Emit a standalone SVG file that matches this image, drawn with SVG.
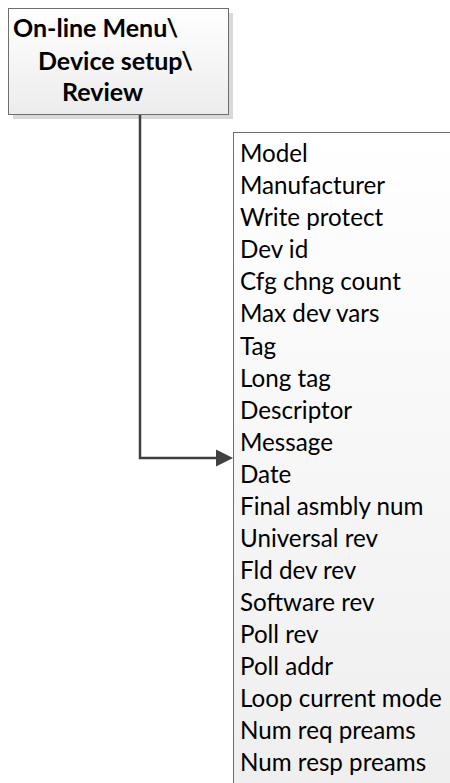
<svg xmlns="http://www.w3.org/2000/svg" width="450" height="783" viewBox="0 0 450 783">
<defs>
<linearGradient id="g1" x1="0" y1="0" x2="0" y2="1">
<stop offset="0" stop-color="#ffffff"/>
<stop offset="1" stop-color="#ececec"/>
</linearGradient>
<linearGradient id="g2" x1="0" y1="0" x2="0" y2="1">
<stop offset="0" stop-color="#ffffff"/>
<stop offset="1" stop-color="#eeeeee"/>
</linearGradient>
<marker id="arr" markerWidth="7" markerHeight="7" refX="4" refY="3.5" orient="auto" markerUnits="strokeWidth">
<path d="M0,0 L7,3.5 L0,7 Z" fill="#404040"/>
</marker>
</defs>
<style>
.box{stroke:#6e6e6e;stroke-width:1}
.shadow{fill:#d9d9d9}
.t{font-family:Lato,"Open Sans","Liberation Sans",sans-serif;font-size:24.2px;fill:#000}
.b{font-weight:bold;font-size:25px}
.conn{fill:none;stroke:#404040;stroke-width:2.5}
</style>
<rect width="450" height="783" fill="#ffffff"/>
<g id="node-top">
<rect class="shadow" x="13" y="13" width="220" height="106"/>
<rect class="box" x="8.5" y="8.5" width="220" height="106" fill="url(#g1)"/>
<text class="t b" x="13" y="37">On-line Menu\</text>
<text class="t b" x="38" y="70">Device setup\</text>
<text class="t b" x="62" y="101">Review</text>
</g>
<g id="node-list">
<rect class="box" x="233.5" y="132.5" width="240" height="680" fill="url(#g2)"/>
<text class="t" x="240" y="162">Model</text>
<text class="t" x="240" y="194">Manufacturer</text>
<text class="t" x="240" y="226">Write protect</text>
<text class="t" x="240" y="258">Dev id</text>
<text class="t" x="240" y="290">Cfg chng count</text>
<text class="t" x="240" y="322">Max dev vars</text>
<text class="t" x="240" y="355">Tag</text>
<text class="t" x="240" y="387">Long tag</text>
<text class="t" x="240" y="419">Descriptor</text>
<text class="t" x="240" y="451">Message</text>
<text class="t" x="240" y="483">Date</text>
<text class="t" x="240" y="515">Final asmbly num</text>
<text class="t" x="240" y="547">Universal rev</text>
<text class="t" x="240" y="579">Fld dev rev</text>
<text class="t" x="240" y="611">Software rev</text>
<text class="t" x="240" y="643">Poll rev</text>
<text class="t" x="240" y="675">Poll addr</text>
<text class="t" x="240" y="707">Loop current mode</text>
<text class="t" x="240" y="739">Num req preams</text>
<text class="t" x="240" y="771">Num resp preams</text>
</g>
<g id="connectors">
<polyline class="conn" points="140,115 140,458 225.5,458" marker-end="url(#arr)"/>
</g>
</svg>
